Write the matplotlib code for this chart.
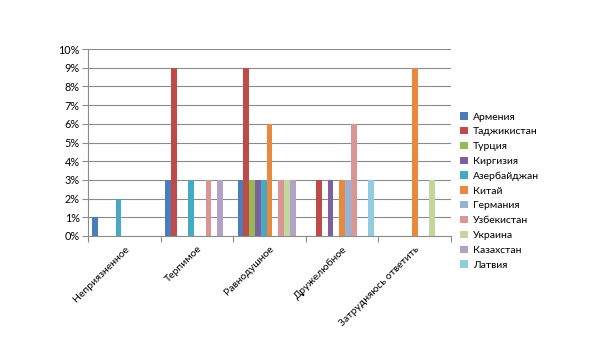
import numpy as np
import matplotlib
matplotlib.use('Agg')
import matplotlib.pyplot as plt
from matplotlib.ticker import PercentFormatter

plt.rcParams['font.family'] = ['Lato', 'DejaVu Sans']

# categories on x axis
categories = ['Неприязненное', 'Терпимое', 'Равнодушное', 'Дружелюбное', 'Затрудняюсь ответить']

# series (countries) and their values in %
countries = ['Армения', 'Таджикистан', 'Турция', 'Киргизия', 'Азербайджан', 'Китай',
             'Германия', 'Узбекистан', 'Украина', 'Казахстан', 'Латвия']
armenia = [1, 3, 3, 0, 0]
tajikistan = [0, 9, 9, 3, 0]
turkey = [0, 0, 3, 0, 0]
kyrgyzstan = [0, 0, 3, 3, 0]
azerbaijan = [2, 3, 3, 0, 0]
china = [0, 0, 6, 3, 9]
germany = [0, 0, 0, 3, 0]
uzbekistan = [0, 3, 3, 6, 0]
ukraine = [0, 0, 3, 0, 3]
kazakhstan = [0, 3, 3, 0, 0]
latvia = [0, 0, 0, 3, 0]
values = [armenia, tajikistan, turkey, kyrgyzstan, azerbaijan, china,
          germany, uzbekistan, ukraine, kazakhstan, latvia]

colors = ['#4A7EBB', '#BE4B48', '#98B954', '#7D60A0', '#46AAC5', '#E8893F',
          '#95B3D7', '#D99694', '#C3D69B', '#B3A2C7', '#93CDDD']

fig = plt.figure(figsize=(6.0, 3.53), dpi=100)
ax = fig.add_axes([88/600, 1 - 236/353, (451 - 88)/600, (236 - 49)/353])

n = len(countries)
w = 1 / (n + 1.5)
x = np.arange(len(categories))
for k in range(n):
    ax.bar(x - 0.5 + 0.75 * w + (k + 0.5) * w, values[k], width=w, color=colors[k],
           label=countries[k], zorder=3)

ax.set_xlim(-0.5, len(categories) - 0.5)
ax.set_ylim(0, 10)
ax.set_yticks(np.arange(0, 11, 1))
ax.yaxis.set_major_formatter(PercentFormatter(decimals=0))
ax.grid(axis='y', color='#8C8C8C', linewidth=0.8, zorder=0)

ax.set_xticks(np.arange(-0.5, len(categories)), minor=False)
ax.set_xticklabels([])
ax.set_xticks(x, minor=True)
ax.set_xticklabels(categories, minor=True, rotation=45, ha='right', rotation_mode='anchor')
ax.tick_params(axis='x', which='minor', length=0, pad=6, labelsize=7.5)
ax.tick_params(axis='x', which='major', length=4, color='#8C8C8C')
ax.tick_params(axis='y', length=4, color='#8C8C8C', labelsize=7.8, pad=2)

for s in ['top', 'right']:
    ax.spines[s].set_visible(False)
for s in ['left', 'bottom']:
    ax.spines[s].set_color('#8C8C8C')
    ax.spines[s].set_linewidth(0.8)

ax.legend(loc='upper left', bbox_to_anchor=(455/600, 1 - 107/353), bbox_transform=fig.transFigure,
          frameon=False, fontsize=7.5, handlelength=0.7, handleheight=0.7,
          handletextpad=0.5, labelspacing=0.53, borderpad=0)

fig.savefig('out.png', dpi=100)
